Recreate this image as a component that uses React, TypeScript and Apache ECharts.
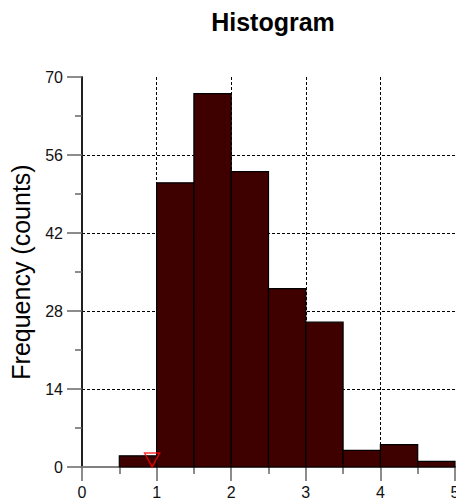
import React, { useEffect, useRef } from "react";
import * as echarts from "echarts";

const binStart = [0.5, 1, 1.5, 2, 2.5, 3, 3.5, 4, 4.5];
const binEnd = [1, 1.5, 2, 2.5, 3, 3.5, 4, 4.5, 5];
const counts = [2, 51, 67, 53, 32, 26, 3, 4, 1];
const markerX = [0.94];
const markerY = [0];
const titleText = "Histogram";
const yName = "Frequency (counts)";

export default function App() {
  const ref = useRef<HTMLDivElement>(null);
  useEffect(() => {
    if (!ref.current) return;
    const chart = echarts.init(ref.current, null, { renderer: "svg" });
    const font = "Arial, 'Liberation Sans', sans-serif";
    const barData = binStart.map((s, i) => [s, binEnd[i], counts[i]]);
    chart.setOption({
      animation: false,
      backgroundColor: "#fff",
      title: {
        text: titleText,
        left: 273,
        textAlign: "center",
        top: 9,
        padding: 0,
        textStyle: { fontFamily: font, fontSize: 25, fontWeight: "bold", color: "#000" },
      },
      grid: { left: 82, top: 77, right: 1, bottom: 34, outerBoundsMode: "none", containLabel: false },
      xAxis: [
        {
          type: "value",
          min: 0,
          max: 5,
          interval: 1,
          axisLine: { show: true, onZero: false, lineStyle: { color: "#444", width: 1.5 } },
          axisTick: { show: true, length: 14, lineStyle: { color: "#666", width: 1.5 } },
          minorTick: { show: true, splitNumber: 2, length: 7, lineStyle: { color: "#666", width: 1.5 } },
          axisLabel: { margin: 17, fontFamily: font, fontSize: 16, color: "#111" },
          splitLine: { show: true, showMinLine: false, showMaxLine: false, lineStyle: { color: "#000", type: [3, 2], width: 1 } },
        },
        {
          type: "value",
          position: "top",
          min: 0,
          max: 5,
          axisLine: { show: true, lineStyle: { color: "#808080", width: 2 } },
          axisTick: { show: false },
          axisLabel: { show: false },
          splitLine: { show: false },
        },
      ],
      yAxis: [
        {
          type: "value",
          min: 0,
          max: 70,
          interval: 14,
          name: yName,
          nameLocation: "middle",
          nameGap: 49,
          nameTextStyle: { fontFamily: font, fontSize: 25, color: "#000" },
          axisLine: { show: true, lineStyle: { color: "#808080", width: 2 } },
          axisTick: { show: true, length: 15, lineStyle: { color: "#666", width: 1.5 } },
          minorTick: { show: true, splitNumber: 2, length: 7, lineStyle: { color: "#666", width: 1.5 } },
          axisLabel: { margin: 19, fontFamily: font, fontSize: 16, color: "#111" },
          splitLine: { show: true, showMinLine: false, showMaxLine: false, lineStyle: { color: "#000", type: [3, 2], width: 1 } },
        },
        {
          type: "value",
          position: "right",
          min: 0,
          max: 70,
          axisLine: { show: true, lineStyle: { color: "#000", width: 1.5 } },
          axisTick: { show: false },
          axisLabel: { show: false },
          splitLine: { show: false },
        },
      ],
      series: [
        {
          type: "custom",
          xAxisIndex: 0,
          yAxisIndex: 0,
          data: barData,
          encode: { x: [0, 1], y: 2 },
          renderItem: (params: any, api: any) => {
            const p0 = api.coord([api.value(0), api.value(2)]);
            const p1 = api.coord([api.value(1), 0]);
            return {
              type: "rect",
              shape: { x: p0[0], y: p0[1], width: p1[0] - p0[0], height: p1[1] - p0[1] },
              style: { fill: "#3f0000", stroke: "#000", lineWidth: 1.2 },
            };
          },
          z: 2,
        },
        {
          type: "scatter",
          xAxisIndex: 0,
          yAxisIndex: 0,
          data: markerX.map((x, i) => [x, markerY[i]]),
          symbol: "triangle",
          symbolRotate: 180,
          symbolSize: [15, 14],
          symbolOffset: [0, -7],
          itemStyle: { color: "rgba(0,0,0,0)", borderColor: "#ff0000", borderWidth: 1.5 },
          z: 5,
        },
      ],
    });
    return () => chart.dispose();
  }, []);
  return (
    <div
      ref={ref}
      style={{ position: "fixed", left: 0, top: 0, width: 456, height: 501 }}
    />
  );
}
